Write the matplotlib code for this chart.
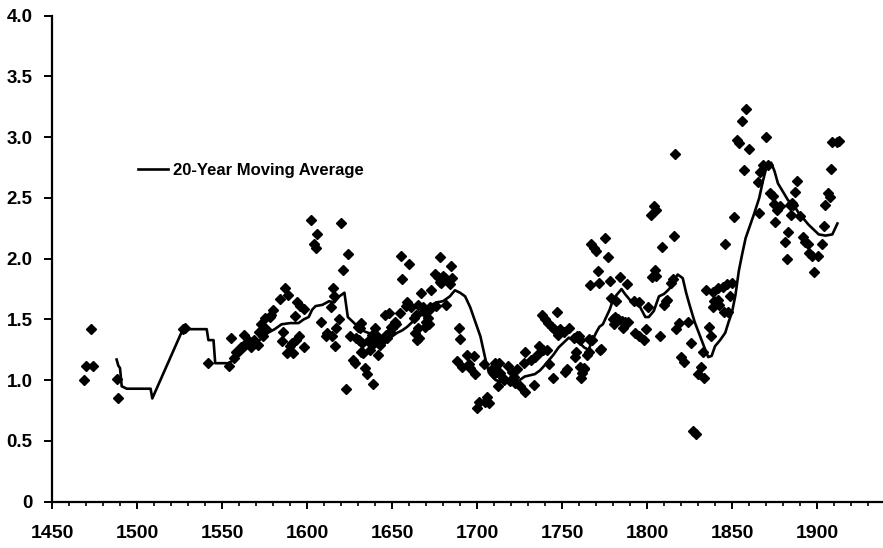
import matplotlib
matplotlib.use("Agg")
import matplotlib.pyplot as plt
from matplotlib.ticker import MultipleLocator, FuncFormatter

plt.rcParams['font.family'] = ['Liberation Sans', 'DejaVu Sans']
plt.rcParams['font.weight'] = 'bold'

# Scatter observations (year, value)
obs_years = [
    1469, 1470, 1473, 1474, 1488, 1489, 1527, 1528, 1542, 1554, 1555, 1557, 1558,
    1561, 1563, 1564, 1566, 1567, 1569, 1571, 1572, 1573, 1574, 1575, 1576, 1578,
    1579, 1580, 1584, 1585, 1586, 1587, 1588, 1589, 1590, 1591, 1591.5, 1593, 1593.5,
    1594, 1595, 1596, 1598, 1598.5, 1602.5, 1604, 1605, 1606, 1608, 1611, 1612,
    1614, 1614.5, 1615, 1616, 1616.6, 1617, 1619, 1620, 1621, 1623, 1624, 1625,
    1627, 1628, 1629, 1630, 1630.5, 1631, 1631.5, 1632, 1632.5, 1633, 1634, 1635,
    1636, 1637, 1637.5, 1638, 1639, 1639.5, 1640, 1641, 1642, 1643, 1644, 1646,
    1646.5, 1647, 1648, 1649, 1649.5, 1650, 1652, 1652.5, 1654.5, 1655, 1656,
    1658, 1659, 1660, 1661, 1663, 1663.5, 1664, 1664.5, 1665, 1665.5, 1666,
    1667, 1668, 1669, 1669.5, 1670, 1671, 1671.5, 1672, 1672.5, 1673, 1675,
    1675.6, 1677, 1678, 1678.5, 1679, 1680, 1681, 1681.5, 1684, 1684.5, 1685.5,
    1688.5, 1689.6, 1690, 1691, 1694, 1695.5, 1696, 1698, 1699, 1700, 1701,
    1704, 1704.5, 1706, 1707, 1709, 1710, 1710.6, 1712, 1712.5, 1713, 1713.6,
    1715, 1716, 1718, 1719.5, 1720.6, 1722, 1722.5, 1723.5, 1725, 1727.6, 1728,
    1728.5, 1732, 1733.5, 1734, 1736.4, 1737, 1738, 1739, 1740, 1741, 1742,
    1742.5, 1744, 1744.5, 1745, 1747, 1747.5, 1748.6, 1751, 1751.5, 1752.7, 1754,
    1757, 1757.5, 1758, 1758.6, 1760, 1760.3, 1760.6, 1761, 1761.5, 1762.7, 1763,
    1764.4, 1765.6, 1766, 1766.5, 1767, 1767.5, 1769, 1770, 1771, 1772, 1772.5,
    1773, 1775.5, 1777, 1778, 1779, 1780, 1780.5, 1781, 1782, 1783, 1784, 1785,
    1786, 1787, 1788, 1789, 1792.5, 1793, 1795, 1795.5, 1798, 1799.5, 1800.7,
    1802.5, 1803, 1804, 1804.5, 1805, 1805.5, 1807.7, 1809, 1810, 1811, 1812,
    1814, 1815, 1816, 1816.5, 1817, 1819, 1820, 1821.7, 1824, 1826, 1827, 1829,
    1830, 1831.6, 1833, 1833.5, 1834.6, 1836.3, 1837.5, 1838.6, 1839, 1839.5,
    1841.6, 1842, 1842.5, 1844.5, 1845, 1845.7, 1847, 1847.5, 1849, 1850, 1851,
    1852.7, 1854, 1855.6, 1856.8, 1858.5, 1859.7, 1865, 1866, 1866.7, 1868.5,
    1870, 1871, 1872.6, 1874, 1874.5, 1875, 1876.7, 1878.4, 1881.3, 1882.5, 1883,
    1884, 1884.8, 1885.4, 1886, 1887, 1888, 1890, 1892, 1893, 1894.8, 1895.3,
    1897, 1898, 1900.6, 1903, 1904, 1904.7, 1906.5, 1907.6, 1908, 1909, 1911.7,
    1913,
]
obs_values = [
    1.00, 1.12, 1.42, 1.12, 1.01, 0.85, 1.42, 1.43, 1.14, 1.12, 1.35, 1.18, 1.23,
    1.27, 1.37, 1.31, 1.32, 1.27, 1.33, 1.29, 1.40, 1.46, 1.36, 1.51, 1.42, 1.52,
    1.54, 1.58, 1.67, 1.32, 1.40, 1.76, 1.22, 1.70, 1.28, 1.31, 1.22, 1.53, 1.33,
    1.64, 1.36, 1.61, 1.59, 1.27, 2.32, 2.12, 2.09, 2.20, 1.48, 1.36, 1.39,
    1.60, 1.36, 1.76, 1.69, 1.28, 1.43, 1.50, 2.29, 1.91, 0.93, 2.04, 1.36,
    1.17, 1.14, 1.35, 1.44, 1.33, 1.43, 1.23, 1.47, 1.31, 1.22, 1.10, 1.05,
    1.32, 1.25, 1.33, 1.37, 0.97, 1.31, 1.43, 1.36, 1.21, 1.29, 1.32, 1.54,
    1.37, 1.35, 1.55, 1.40, 1.44, 1.43, 1.48, 1.46, 1.55, 2.02, 1.83,
    1.61, 1.64, 1.96, 1.60, 1.51, 1.39, 1.54, 1.33, 1.43, 1.62, 1.35,
    1.72, 1.60, 1.56, 1.44, 1.48, 1.51, 1.46, 1.58, 1.60, 1.74, 1.87,
    1.61, 1.85, 2.01, 1.81, 1.80, 1.86, 1.84, 1.62, 1.79, 1.94, 1.84,
    1.16, 1.43, 1.34, 1.11, 1.21, 1.13, 1.10, 1.20, 1.05, 0.77, 0.82,
    1.13, 0.82, 0.86, 0.81, 1.09, 1.05, 1.14, 1.07, 0.95, 1.14, 1.06,
    1.02, 1.00, 1.12, 0.99, 1.07, 1.03, 0.98, 1.09, 0.95, 1.14, 1.23,
    0.90, 1.17, 0.96, 1.19, 1.28, 1.23, 1.54, 1.25, 1.50, 1.25, 1.47,
    1.13, 1.44, 1.02, 1.42, 1.56, 1.37, 1.42, 1.40, 1.07, 1.09, 1.43,
    1.35, 1.19, 1.23, 1.36, 1.36, 1.33, 1.11, 1.02, 1.06, 1.10, 1.09,
    1.21, 1.23, 1.34, 1.78, 2.12, 1.33, 2.09, 2.06, 1.90, 1.80, 1.25,
    1.26, 2.17, 2.01, 1.82, 1.68, 1.50, 1.46, 1.52, 1.65, 1.50, 1.85, 1.49,
    1.43, 1.48, 1.79, 1.48, 1.65, 1.39, 1.64, 1.36, 1.33, 1.42, 1.60,
    2.36, 1.85, 2.43, 1.91, 2.40, 1.86, 1.36, 2.10, 1.62, 1.65, 1.66,
    1.80, 1.83, 2.19, 2.86, 1.42, 1.47, 1.19, 1.15, 1.48, 1.31, 0.58, 0.56,
    1.05, 1.11, 1.23, 1.02, 1.74, 1.44, 1.36, 1.60, 1.73, 1.65,
    1.76, 1.66, 1.62, 1.77, 1.56, 2.12, 1.79, 1.56, 1.69, 1.80, 2.34,
    2.98, 2.95, 3.13, 2.73, 3.23, 2.90, 2.63, 2.38, 2.71, 2.77,
    3.00, 2.77, 2.54, 2.52, 2.45, 2.30, 2.40, 2.43, 2.14, 2.00, 2.22,
    2.44, 2.36, 2.46, 2.44, 2.55, 2.64, 2.35, 2.18, 2.14, 2.12, 2.05,
    2.02, 1.89, 2.02, 2.12, 2.27, 2.44, 2.54, 2.51, 2.74, 2.96, 2.96,
    2.97,
]

# 20-year moving average line
ma_years = [
    1488, 1489, 1490, 1491, 1494, 1508, 1509, 1527, 1541, 1542, 1545, 1546, 1554,
    1557, 1560, 1563, 1566, 1570, 1573, 1577, 1581, 1585, 1590, 1595, 1598, 1601,
    1603, 1605, 1609, 1613, 1616, 1619, 1622, 1624, 1627, 1630, 1634, 1638, 1640,
    1643, 1645, 1647, 1650, 1653, 1656, 1659, 1662, 1665, 1668, 1672, 1676, 1680,
    1684, 1687, 1690, 1693, 1696, 1698, 1700, 1702, 1705, 1707, 1711, 1714, 1718,
    1722, 1725, 1728, 1731, 1734, 1737, 1739, 1742, 1745, 1748, 1751, 1754, 1757,
    1760, 1763, 1765.6, 1768, 1770, 1772, 1774, 1776, 1778, 1780, 1782, 1785, 1787,
    1790, 1793, 1796, 1799, 1801, 1804, 1807, 1810, 1813, 1815, 1818, 1821, 1823,
    1825, 1828, 1831, 1834, 1836, 1838, 1840, 1843, 1846, 1848, 1850, 1852, 1854,
    1856, 1858, 1860, 1863, 1866, 1868, 1870, 1873, 1875, 1877, 1880, 1883, 1886,
    1889, 1892, 1895, 1898, 1901, 1905, 1909, 1912,
]
ma_values = [
    1.17, 1.12, 1.10, 0.95, 0.93, 0.93, 0.85, 1.42, 1.42, 1.33, 1.33, 1.14, 1.14,
    1.17, 1.20, 1.24, 1.28, 1.31, 1.34, 1.39, 1.42, 1.46, 1.47, 1.47, 1.50, 1.52,
    1.58, 1.61, 1.62, 1.65, 1.64, 1.69, 1.72, 1.52, 1.48, 1.44, 1.40, 1.38, 1.31,
    1.28, 1.29, 1.33, 1.36, 1.39, 1.41, 1.44, 1.48, 1.55, 1.58, 1.61, 1.64, 1.65,
    1.69, 1.74, 1.72, 1.69, 1.60, 1.52, 1.44, 1.36, 1.17, 1.06, 1.00, 0.99, 0.98,
    0.97, 1.00, 1.03, 1.04, 1.05, 1.08, 1.11, 1.16, 1.21, 1.27, 1.31, 1.35, 1.33,
    1.31, 1.27, 1.25, 1.33, 1.39, 1.44, 1.46, 1.52, 1.58, 1.66, 1.70, 1.75, 1.71,
    1.66, 1.63, 1.60, 1.52, 1.52, 1.57, 1.69, 1.71, 1.75, 1.80, 1.87, 1.84, 1.72,
    1.62, 1.48, 1.37, 1.26, 1.19, 1.20, 1.28, 1.33, 1.39, 1.48, 1.56, 1.70, 1.90,
    2.04, 2.17, 2.25, 2.37, 2.50, 2.63, 2.74, 2.79, 2.72, 2.62, 2.55, 2.48, 2.45,
    2.38, 2.33, 2.28, 2.24, 2.20, 2.19, 2.20, 2.29,
]

legend_label = "20-Year Moving Average"

fig = plt.figure(figsize=(8.83, 5.48), dpi=100)
ax = fig.add_axes([52 / 883, (548 - 501.7) / 548, 1 - 52 / 883, (501.7 - 15.7) / 548])

ax.plot(obs_years, obs_values, linestyle='none', marker='D', markersize=4.8,
        color='black', label='_nolegend_', clip_on=False)
ax.plot(ma_years, ma_values, color='black', linewidth=1.9, label=legend_label)

ax.set_xlim(1450, 1938.8)
ax.set_ylim(0, 4.0)
ax.xaxis.set_major_locator(MultipleLocator(50))
ax.xaxis.set_minor_locator(MultipleLocator(10))
ax.yaxis.set_major_locator(MultipleLocator(0.5))
ax.yaxis.set_major_formatter(FuncFormatter(lambda v, p: "0" if v == 0 else f"{v:.1f}"))

for side in ('top', 'right'):
    ax.spines[side].set_visible(False)
for side in ('left', 'bottom'):
    ax.spines[side].set_linewidth(1.6)

ax.tick_params(axis='x', which='major', direction='out', length=5, width=1.4,
               pad=12, labelsize=14)
ax.tick_params(axis='x', which='minor', direction='out', length=3, width=1.2)
ax.tick_params(axis='y', which='major', direction='out', length=6, width=1.4,
               pad=8, labelsize=13.5)
for lbl in ax.get_xticklabels() + ax.get_yticklabels():
    lbl.set_fontweight('bold')

leg = ax.legend(loc='center left', bbox_to_anchor=((138 - 52) / 831, (501.7 - 170) / 486),
                frameon=False, borderpad=0, borderaxespad=0, handlelength=1.8,
                handletextpad=0.3, prop={'size': 12, 'weight': 'bold'})

fig.savefig("out.png", dpi=100)
